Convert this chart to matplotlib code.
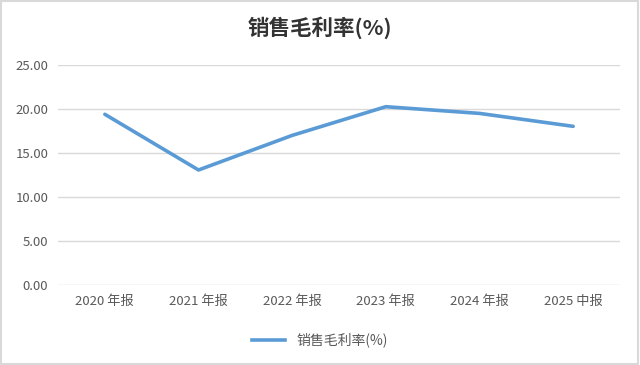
import matplotlib
matplotlib.use("Agg")
import matplotlib.pyplot as plt
from matplotlib.lines import Line2D
from matplotlib.patches import Rectangle

plt.rcParams["font.family"] = ["Noto Sans CJK SC", "DejaVu Sans"]

# 数据
periods = ["2020 年报", "2021 年报", "2022 年报", "2023 年报", "2024 年报", "2025 中报"]
margin = [19.40, 13.07, 17.00, 20.26, 19.50, 18.03]
yticks = [0, 5, 10, 15, 20, 25]

fig = plt.figure(figsize=(6.4, 3.65), dpi=100)
ax = fig.add_axes([58 / 640, 1 - 285 / 365, 562 / 640, 220 / 365])

x = list(range(len(periods)))
ax.plot(x, margin, color="#5B9BD5", lw=2.6, solid_capstyle="round", solid_joinstyle="round")

ax.set_xlim(-0.5, len(periods) - 0.5)
ax.set_ylim(0, 25)
ax.set_yticks(yticks)
ax.set_yticklabels([f"{v:.2f}" for v in yticks])
ax.set_xticks(x)
ax.set_xticklabels(periods)
ax.tick_params(axis="both", length=0, labelsize=9.5, labelcolor="#595959")
ax.tick_params(axis="x", pad=7)
ax.tick_params(axis="y", pad=7)
ax.grid(axis="y", color="#D9D9D9", lw=1)
ax.set_axisbelow(True)
for s in ax.spines.values():
    s.set_visible(False)

fig.text(0.5, 1 - 28 / 365, "销售毛利率(%)", ha="center", va="center",
         fontsize=15.5, fontweight="bold", color="#333333")

# 图例
handle = Line2D([], [], color="#5B9BD5", lw=2.6)
fig.legend([handle], ["销售毛利率(%)"], loc="center", bbox_to_anchor=(0.5, 1 - 340 / 365),
           frameon=False, fontsize=10, labelcolor="#595959", handlelength=2.4)

# 外框
fig.patches.append(Rectangle((0.002, 0.003), 0.995, 0.993, transform=fig.transFigure,
                             fill=False, edgecolor="#D9D9D9", lw=1.5))

fig.savefig("out.png", dpi=100)
